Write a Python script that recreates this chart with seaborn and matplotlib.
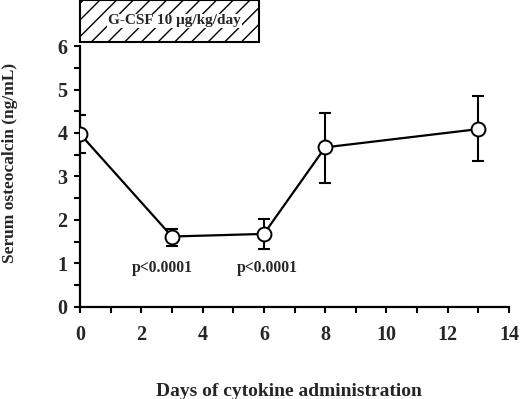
import matplotlib
matplotlib.use("Agg")
import matplotlib.pyplot as plt
import seaborn as sns
import pandas as pd
import numpy as np
from matplotlib.patches import Rectangle
from matplotlib.ticker import MultipleLocator

days = [0, 3, 6, 8, 13]
osteocalcin = [3.98, 1.62, 1.68, 3.67, 4.09]
err_upper = [4.42, 1.79, 2.02, 4.45, 4.85]
err_lower = [3.55, 1.41, 1.33, 2.86, 3.36]
p_labels = ["p<0.0001", "p<0.0001"]
p_x = [2.67, 6.1]
p_y = [0.89, 0.89]
box_label = "G-CSF 10 μg/kg/day"
box_x = [0, 5.85]

sns.set_style("ticks")
plt.rcParams['font.family'] = ['Liberation Serif', 'DejaVu Serif']
plt.rcParams['font.weight'] = 'bold'
plt.rcParams['hatch.linewidth'] = 1.0

fig = plt.figure(figsize=(5.2, 3.99), dpi=100)
ax = fig.add_axes([0.1538, 0.2306, 0.979 - 0.1538, 0.8847 - 0.2306])

df = pd.DataFrame({"day": days, "val": osteocalcin})
yerr = np.array([np.array(osteocalcin) - np.array(err_lower),
                 np.array(err_upper) - np.array(osteocalcin)])
ax.errorbar(days, osteocalcin, yerr=yerr, fmt='none', ecolor='black',
            elinewidth=1.5, capsize=4, capthick=1.5, zorder=2)
sns.lineplot(data=df, x="day", y="val", ax=ax, color='black', linewidth=1.6,
             marker='o', markersize=10, markerfacecolor='white',
             markeredgecolor='black', markeredgewidth=1.4, zorder=3)

ax.set_xlim(0, 14)
ax.set_ylim(0, 6)
ax.xaxis.set_major_locator(MultipleLocator(2))
ax.xaxis.set_minor_locator(MultipleLocator(1))
ax.yaxis.set_major_locator(MultipleLocator(1))
ax.yaxis.set_minor_locator(MultipleLocator(0.5))
ax.tick_params(which='both', direction='out', length=4, width=1.5, color='black')
ax.tick_params(axis='both', which='major', labelsize=14.5)
ax.tick_params(axis='x', which='major', pad=9)
ax.tick_params(axis='y', which='major', pad=5)
for sp in ['left', 'bottom']:
    ax.spines[sp].set_linewidth(1.6)
    ax.spines[sp].set_color('black')
sns.despine(ax=ax)
for lab in ax.get_xticklabels() + ax.get_yticklabels():
    lab.set_fontweight('bold')

ax.set_xlabel("Days of cytokine administration", fontsize=14, fontweight='bold')
ax.set_ylabel("Serum osteocalcin (ng/mL)", fontsize=12.5, fontweight='bold')
ax.xaxis.set_label_coords(0.487, -0.29)
ax.yaxis.set_label_coords(-0.163, 0.552)
ax.yaxis.label.set_verticalalignment('center')

for t, x, y in zip(p_labels, p_x, p_y):
    ax.text(x, y, t, ha='center', va='center', fontsize=11.3, fontweight='bold')

rect = Rectangle((box_x[0], 6.09), box_x[1] - box_x[0], 0.97, transform=ax.transData,
                 facecolor='white', edgecolor='black', linewidth=1.5, hatch='//',
                 clip_on=False, zorder=5)
ax.add_patch(rect)
ax.text((box_x[0] + box_x[1]) / 2 + 0.16, 6.575, box_label, ha='center', va='center',
        fontsize=11, fontweight='bold', clip_on=False, zorder=6,
        bbox=dict(facecolor='white', edgecolor='none', pad=0.5))

fig.savefig("out.png", dpi=100)
